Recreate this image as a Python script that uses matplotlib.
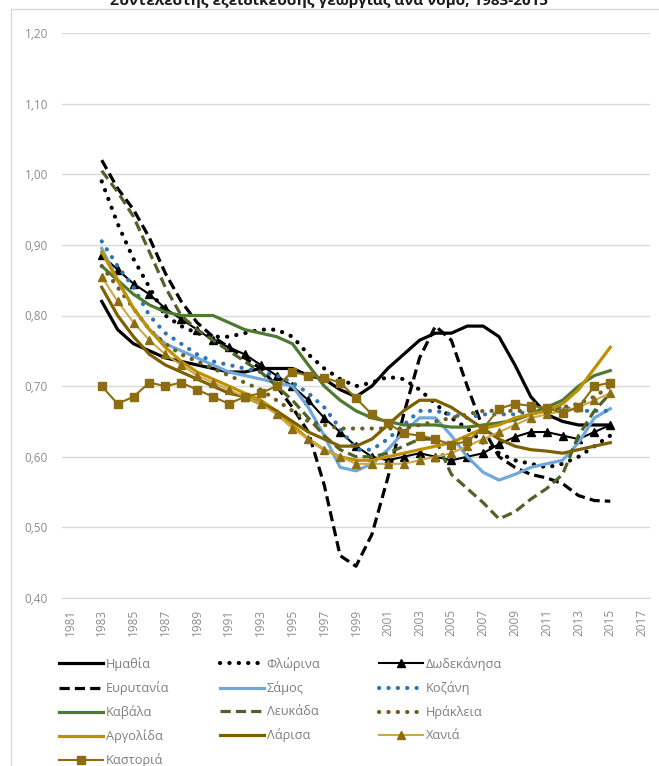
import numpy as np
import matplotlib.pyplot as plt
from matplotlib.lines import Line2D

plt.rcParams['font.family'] = ['Open Sans', 'DejaVu Sans']

years = np.arange(1983, 2016)

imathia = [0.82, 0.78, 0.76, 0.75, 0.74, 0.735, 0.73, 0.725, 0.72, 0.72, 0.725, 0.725, 0.725,
           0.715, 0.71, 0.695, 0.685, 0.70, 0.725, 0.745, 0.765, 0.775, 0.775, 0.785, 0.785,
           0.77, 0.73, 0.685, 0.66, 0.65, 0.645, 0.645, 0.645]
florina = [0.99, 0.93, 0.88, 0.84, 0.80, 0.785, 0.775, 0.77, 0.77, 0.775, 0.78, 0.78, 0.77,
           0.745, 0.725, 0.71, 0.70, 0.705, 0.713, 0.71, 0.695, 0.675, 0.655, 0.64, 0.62,
           0.605, 0.595, 0.59, 0.585, 0.59, 0.60, 0.615, 0.63]
dodekanisa = [0.885, 0.865, 0.845, 0.83, 0.81, 0.795, 0.78, 0.765, 0.755, 0.745, 0.73, 0.715, 0.70,
              0.68, 0.655, 0.635, 0.615, 0.60, 0.595, 0.60, 0.605, 0.60, 0.595, 0.60, 0.605,
              0.618, 0.628, 0.635, 0.635, 0.63, 0.625, 0.635, 0.645]
evrytania = [1.02, 0.98, 0.95, 0.91, 0.86, 0.82, 0.79, 0.77, 0.755, 0.74, 0.725, 0.70, 0.67,
             0.635, 0.56, 0.46, 0.445, 0.49, 0.57, 0.66, 0.74, 0.785, 0.765, 0.70, 0.64,
             0.60, 0.585, 0.575, 0.57, 0.562, 0.545, 0.538, 0.537]
samos = [0.895, 0.85, 0.81, 0.78, 0.76, 0.75, 0.74, 0.73, 0.72, 0.715, 0.71, 0.705, 0.70,
         0.67, 0.63, 0.585, 0.58, 0.59, 0.61, 0.635, 0.655, 0.655, 0.63, 0.60, 0.578,
         0.567, 0.575, 0.585, 0.59, 0.595, 0.62, 0.655, 0.668]
kozani = [0.905, 0.87, 0.84, 0.80, 0.775, 0.76, 0.745, 0.735, 0.73, 0.725, 0.72, 0.715, 0.705,
          0.69, 0.67, 0.64, 0.61, 0.61, 0.625, 0.645, 0.665, 0.665, 0.66, 0.655, 0.66,
          0.66, 0.66, 0.665, 0.67, 0.67, 0.665, 0.665, 0.665]
kavala = [0.87, 0.85, 0.83, 0.815, 0.805, 0.80, 0.80, 0.80, 0.79, 0.78, 0.775, 0.77, 0.76,
          0.73, 0.70, 0.68, 0.665, 0.655, 0.65, 0.645, 0.645, 0.645, 0.642, 0.642, 0.645,
          0.648, 0.652, 0.66, 0.67, 0.68, 0.70, 0.715, 0.722]
lefkada = [1.005, 0.975, 0.94, 0.89, 0.84, 0.80, 0.78, 0.765, 0.75, 0.735, 0.72, 0.70, 0.68,
           0.655, 0.63, 0.61, 0.60, 0.60, 0.605, 0.615, 0.625, 0.625, 0.575, 0.555, 0.535,
           0.512, 0.522, 0.54, 0.555, 0.575, 0.63, 0.665, 0.69]
irakleia = [0.87, 0.84, 0.81, 0.78, 0.76, 0.745, 0.735, 0.725, 0.715, 0.705, 0.695, 0.68, 0.665,
            0.65, 0.645, 0.64, 0.64, 0.64, 0.64, 0.64, 0.645, 0.65, 0.655, 0.66, 0.665,
            0.665, 0.665, 0.665, 0.665, 0.67, 0.675, 0.685, 0.70]
argolida = [0.89, 0.85, 0.81, 0.78, 0.755, 0.735, 0.72, 0.71, 0.70, 0.69, 0.68, 0.665, 0.645,
            0.625, 0.61, 0.60, 0.595, 0.595, 0.60, 0.605, 0.61, 0.615, 0.62, 0.63, 0.64,
            0.645, 0.655, 0.66, 0.665, 0.675, 0.695, 0.725, 0.755]
larisa = [0.84, 0.80, 0.77, 0.745, 0.73, 0.72, 0.71, 0.70, 0.69, 0.685, 0.675, 0.665, 0.65,
          0.635, 0.625, 0.615, 0.615, 0.625, 0.645, 0.665, 0.68, 0.68, 0.67, 0.655, 0.64,
          0.625, 0.615, 0.61, 0.608, 0.605, 0.61, 0.615, 0.62]
chania = [0.855, 0.82, 0.79, 0.765, 0.745, 0.73, 0.715, 0.705, 0.695, 0.685, 0.675, 0.66, 0.64,
          0.625, 0.61, 0.60, 0.59, 0.59, 0.59, 0.59, 0.595, 0.60, 0.605, 0.615, 0.625,
          0.635, 0.645, 0.655, 0.66, 0.665, 0.67, 0.68, 0.69]
kastoria = [0.70, 0.675, 0.685, 0.705, 0.70, 0.705, 0.695, 0.685, 0.675, 0.685, 0.69, 0.70, 0.72,
            0.715, 0.712, 0.705, 0.683, 0.66, 0.648, 0.633, 0.63, 0.625, 0.617, 0.622, 0.64,
            0.668, 0.675, 0.672, 0.669, 0.662, 0.67, 0.70, 0.705]

dots = (0, (0.05, 2.2))
dash = (0, (3.2, 1.6))

# (name, values, colour, linestyle, linewidth, marker)
series = [
    ('Ημαθία', imathia, 'black', '-', 2.3, None),
    ('Φλώρινα', florina, 'black', dots, 3.0, None),
    ('Δωδεκάνησα', dodekanisa, 'black', '-', 1.5, '^'),
    ('Ευρυτανία', evrytania, 'black', dash, 2.3, None),
    ('Σάμος', samos, '#6FA8DC', '-', 2.3, None),
    ('Κοζάνη', kozani, '#2E75B6', dots, 3.0, None),
    ('Καβάλα', kavala, '#4E7A32', '-', 2.3, None),
    ('Λευκάδα', lefkada, '#4F6228', dash, 2.3, None),
    ('Ηράκλεια', irakleia, '#6B5E1E', dots, 3.0, None),
    ('Αργολίδα', argolida, '#BF9000', '-', 2.3, None),
    ('Λάρισα', larisa, '#7F6000', '-', 2.3, None),
    ('Χανιά', chania, '#C9A94A', '-', 1.5, '^'),
    ('Καστοριά', kastoria, '#8C6D12', '-', 1.5, 's'),
]

fig = plt.figure(figsize=(6.59, 7.66), dpi=100)
ax = fig.add_axes([62/659, 1-598/766, (650-62)/659, (598-33)/766])

handles = {}
for name, vals, col, ls, lw, mk in series:
    mfc = '#8C6D12' if name == 'Χανιά' else col
    h, = ax.plot(years, vals, color=col, linestyle=ls, linewidth=lw,
                 marker=mk, markersize=6 if mk else 0, markerfacecolor=mfc,
                 markeredgecolor=mfc, label=name,
                 dash_capstyle='round' if ls is dots else 'butt')
    handles[name] = h

ax.set_xlim(1980.5, 2017.5)
ax.set_ylim(0.40, 1.20)
yt = np.arange(0.4, 1.21, 0.1)
ax.set_yticks(yt, ['{:.2f}'.format(v).replace('.', ',') for v in yt])
xt = np.arange(1981, 2018, 2)
ax.set_xticks(xt, [str(x) for x in xt], rotation=90)
ax.tick_params(axis='both', length=0, colors='#8C8C8C', labelsize=8.5)
ax.tick_params(axis='y', pad=10)
ax.tick_params(axis='x', pad=8)
ax.grid(axis='y', color='#D9D9D9', linewidth=1)
ax.set_axisbelow(True)
for s in ['top', 'right', 'left']:
    ax.spines[s].set_visible(False)
ax.spines['bottom'].set_color('#D9D9D9')

# legend: three columns, placed one by one
cols = [['Ημαθία', 'Ευρυτανία', 'Καβάλα', 'Αργολίδα', 'Καστοριά'],
        ['Φλώρινα', 'Σάμος', 'Λευκάδα', 'Λάρισα'],
        ['Δωδεκάνησα', 'Κοζάνη', 'Ηράκλεια', 'Χανιά']]
col_x = [54, 215, 374]
for names, x0 in zip(cols, col_x):
    leg = fig.legend([handles[n] for n in names], names, frameon=False,
                     loc='upper left', bbox_to_anchor=(x0/659, 1-652/766),
                     fontsize=9.2, handlelength=3.4, handletextpad=0.25,
                     labelspacing=0.8, borderaxespad=0)
    for t in leg.get_texts():
        t.set_color('#7F7F7F')

# chart frame and clipped title
fig.add_artist(Line2D([11/659, 11/659], [0, 1-9/766], color='#D9D9D9', lw=1))
fig.add_artist(Line2D([11/659, 1], [1-9/766, 1-9/766], color='#D9D9D9', lw=1))
fig.text(0.5, 1.0, 'Συντελεστής εξειδίκευσης γεωργίας ανά νομό, 1983-2015',
         ha='center', va='center', fontsize=11, fontweight='bold', color='#1A1A1A')

fig.savefig('out.png', dpi=100, facecolor='white')
